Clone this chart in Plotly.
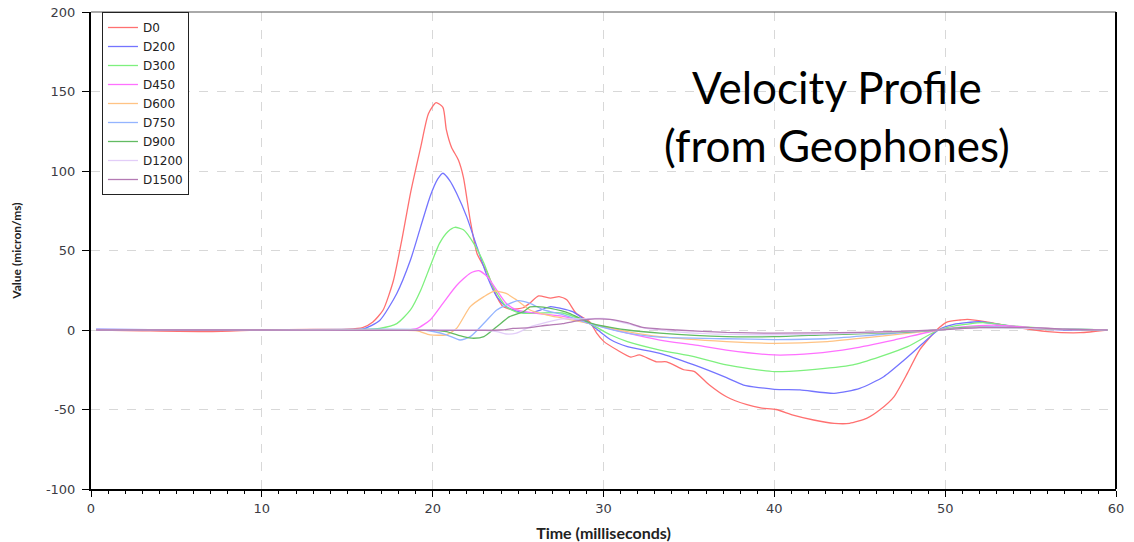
import plotly.graph_objects as go

# ---- data (time in ms, velocity in micron/ms) ----
t_d0 = [0.3, 3, 7, 10, 13, 15, 15.9, 16.5, 17.1, 17.7, 18.2, 18.7, 19.3, 19.75, 20.2, 20.6, 20.8, 21.1, 21.5, 21.8,
        22.2, 22.6, 23.2, 23.75, 24.1, 24.6, 25.3, 25.7, 26.2, 26.9, 27.4, 27.85, 28.4, 29.2, 29.6, 30.0, 30.8, 31.6,
        32.1, 33.1, 33.7, 34.7, 35.3, 36.2, 37.2, 38.4, 39.2, 40.1, 41.1, 42.3, 43.5, 44.4, 45.4, 46.2, 47.0, 47.8,
        48.5, 49.5, 50.1, 50.9, 51.3, 52.5, 54, 56, 57.9, 59.5]
v_d0 = [0, -0.5, -1, 0, 0.3, 0.5, 1.5, 5, 12.6, 31, 57, 86, 115, 136, 143, 140, 126, 115, 107, 96,
        69, 48, 36, 21, 15, 13, 14, 17, 21.4, 20, 21, 19, 10.5, 5, -2, -7, -12.6, -17,
        -15.7, -20, -20, -25, -26, -34.6, -42, -47, -49, -50, -53.5, -56.6, -58.7, -58.7, -55.6, -50, -42, -27,
        -12.6, 0, 5, 6.3, 6.7, 5, 2, -1, -1.7, 0]

t_d200 = [0.3, 5, 10, 15, 15.9, 16.9, 17.9, 18.7, 19.3, 19.85, 20.3, 20.6, 21.0, 21.4, 22.0, 22.6, 23.2, 23.75, 24.3,
          25.0, 25.7, 26.3, 26.9, 27.5, 28.2, 29.2, 30.4, 31.4, 33.3, 35.3, 37.2, 38.2, 40.0, 41.5, 43.5, 45.0, 46.4,
          47.6, 48.7, 49.6, 50.5, 52.0, 53.5, 55, 57, 59.5]
v_d200 = [0.5, 0, 0, 0, 0.5, 6, 23, 44, 65, 84, 95, 98.6, 94, 86, 71, 52, 33.5, 21, 14.7,
          11.5, 10.6, 12.5, 14.7, 13.6, 11.5, 4, -6, -10.5, -14.7, -22, -30, -34.6, -37.3, -37.7, -39.8, -36.7, -29.4,
          -18.9, -8.4, 0, 3.5, 5.2, 3, 1, 0, 0]

t_d300 = [0.3, 10, 16, 16.9, 17.9, 18.7, 19.3, 19.85, 20.4, 20.9, 21.3, 21.8, 22.4, 23.0, 23.55, 24.3, 25.0, 25.7,
          27.6, 29.2, 30.4, 31.4, 33.3, 35.3, 37.2, 40.0, 41.9, 44.6, 46.2, 47.8, 49.6, 50.5, 52.2, 54, 56, 59.5]
v_d300 = [0, 0, 0.3, 1, 4, 12.6, 25, 40, 54.5, 62, 64.6, 63, 54.5, 42, 27, 14.7, 11, 10.5,
          10.7, 4, -3, -7.3, -12.6, -16.8, -22, -26.2, -25.2, -22, -16.8, -10.5, 0, 2.5, 4.6, 2.5, 1, 0]

t_d450 = [0.3, 10, 18.5, 19.1, 19.85, 20.6, 21.4, 22.2, 22.7, 23.2, 23.75, 24.3, 24.9, 26.1, 27.7, 29.2, 31.4, 33.3,
          35.3, 37.2, 40.0, 42.3, 44.6, 47.0, 49.6, 51, 53, 55, 57, 59.5]
v_d450 = [0, 0, 0, 1, 6.3, 16.8, 28, 35.7, 37.3, 33.5, 25, 16.8, 12.6, 10.5, 8.4, 4, -2, -6.3,
          -9.4, -12.6, -15.7, -14.7, -11.5, -6.3, 0, 2, 3, 1.5, 0.5, 0]

t_d600 = [0.3, 10, 18, 19.1, 19.85, 20.8, 21.4, 22.2, 23.0, 23.6, 24.3, 24.9, 25.7, 26.7, 27.6, 29.2, 31.4, 33.3,
          37.2, 40.0, 43.1, 46.0, 49.6, 51, 52, 54, 56, 59.5]
v_d600 = [0, 0, 0, -0.5, -3, -3, 1, 14.7, 21, 24.5, 23, 19, 12.6, 9.4, 7.5, 4, -1, -4.2,
          -7.3, -8.4, -7.3, -4.2, 0, 1.5, 2, 1.5, 0.5, 0]

t_d750 = [0.3, 10, 19.5, 20.8, 21.6, 22.2, 23.0, 23.75, 24.3, 25.0, 25.7, 26.5, 27.7, 29.2, 31.4, 33.3, 37.2, 40.0,
          43, 46, 49.6, 51, 53, 55, 59.5]
v_d750 = [0, 0, 0, -3, -6.3, -4.2, 4.2, 12.6, 15.7, 18.5, 16.8, 12.6, 9.4, 4, -2, -4.5, -5.5, -6,
          -5.5, -3, 0, 1.5, 2, 1, 0]

t_d900 = [0.3, 10, 20, 20.8, 21.8, 22.4, 23.0, 23.75, 24.5, 25.3, 25.7, 26.1, 26.9, 28.0, 29.2, 31.4, 33.3, 37.2,
          40, 43, 46, 49.6, 51, 53, 55, 59.5]
v_d900 = [0, 0, 0, -1, -4.2, -5.2, -4.2, 2, 8.4, 11.5, 14.5, 14.7, 13.6, 10.5, 4.5, 0, -2, -4.2,
          -4.2, -3, -2, 0, 1.5, 1.5, 1, 0]

t_d1200 = [0.3, 10, 22, 22.8, 23.75, 24.3, 24.9, 25.7, 26.7, 27.6, 28.6, 30, 31.4, 32.5, 35.3, 40, 45, 49.6, 52,
           55, 59.5]
v_d1200 = [0, 0, 0, 0, -1, -2.5, -2, 2, 5, 7, 7, 7.3, 4, 1, -2, -3, -2, 0, 1.5,
           1, 0]

t_d1500 = [0.3, 10, 24, 24.7, 25.7, 26.7, 27.6, 28.6, 29.5, 30.4, 31.4, 32.3, 34.3, 37.2, 40, 45, 49.6, 52, 55,
           57, 59.5]
v_d1500 = [0, 0, 0, 1, 1.5, 3, 4, 6, 7, 6.7, 4.6, 1.7, 0, -1.5, -2, -1.5, 0, 1.5, 1.5,
           0.5, 0]

series_names = ["D0", "D200", "D300", "D450", "D600", "D750", "D900", "D1200", "D1500"]
series_t = [t_d0, t_d200, t_d300, t_d450, t_d600, t_d750, t_d900, t_d1200, t_d1500]
series_v = [v_d0, v_d200, v_d300, v_d450, v_d600, v_d750, v_d900, v_d1200, v_d1500]
series_colors = ["#ff7070", "#7474ff", "#7ef07e", "#ff70ff", "#ffc384", "#94b4ff", "#62bb62", "#e2cdf8", "#b47ab4"]

x_ticks = [0, 10, 20, 30, 40, 50, 60]
y_ticks = [-100, -50, 0, 50, 100, 150, 200]

fig = go.Figure()
for name, t, v, c in zip(series_names, series_t, series_v, series_colors):
    fig.add_trace(go.Scatter(x=t, y=v, name=name, mode="lines",
                             line=dict(color=c, width=1.3, shape="spline", smoothing=0.6)))

tick_font = dict(family="DejaVu Sans", size=13, color="#3c3c44")
fig.update_layout(
    width=1134, height=542,
    margin=dict(l=91, r=18, t=12, b=53, autoexpand=False),
    paper_bgcolor="white", plot_bgcolor="white",
    showlegend=True,
    legend=dict(x=0.0107, y=1.0, xanchor="left", yanchor="top",
                bordercolor="#222", borderwidth=1, bgcolor="white",
                font=dict(family="DejaVu Sans", size=12, color="#222"),
                tracegroupgap=0, itemwidth=30),
    xaxis=dict(range=[0, 60], tickvals=x_ticks, ticktext=[str(v) for v in x_ticks], automargin=False,
               showline=True, linecolor="black", linewidth=2,
               ticks="outside", ticklen=6, tickcolor="black", tickwidth=1,
               minor=dict(dtick=1, ticks="outside", ticklen=3, tickcolor="black", showgrid=False),
               showgrid=True, gridcolor="#d8d8d8", griddash="dash", gridwidth=1, zeroline=False,
               tickfont=tick_font, ticklabeloverflow="allow",
               title=dict(text="<b>Time (milliseconds)</b>", font=dict(family="Lato", size=16, color="#222"),
                          standoff=14)),
    yaxis=dict(range=[-100, 200], tickvals=y_ticks, ticktext=[str(v) for v in y_ticks], automargin=False,
               showline=True, linecolor="black", linewidth=2,
               ticks="outside", ticklen=7, tickcolor="black", tickwidth=1, ticklabelstandoff=4,
               showgrid=True, gridcolor="#d8d8d8", griddash="dash", gridwidth=1, zeroline=False,
               tickfont=tick_font, ticklabeloverflow="allow",
               title=dict(text="<b>Value (micron/ms)</b>", font=dict(family="Lato", size=12, color="#222"),
                          standoff=22)),
    shapes=[
        dict(type="line", xref="paper", yref="paper", x0=0, x1=1, y0=1, y1=1,
             line=dict(color="#555", width=1)),
        dict(type="line", xref="paper", yref="paper", x0=1, x1=1, y0=0, y1=1,
             line=dict(color="black", width=2)),
    ],
    annotations=[
        dict(text="Velocity Profile", xref="paper", yref="paper", x=0.728, y=0.843,
             xanchor="center", yanchor="middle", showarrow=False,
             font=dict(family="Lato", size=44, color="black")),
        dict(text="(from Geophones)", xref="paper", yref="paper", x=0.728, y=0.721,
             xanchor="center", yanchor="middle", showarrow=False,
             font=dict(family="Lato", size=44, color="black")),
    ],
)

# remove the default page margin so the figure fills the 1134x542 window exactly
fig.write_html("out.html", config={"displayModeBar": False},
               post_script="document.body.style.margin='0px';document.body.style.overflow='hidden';")
